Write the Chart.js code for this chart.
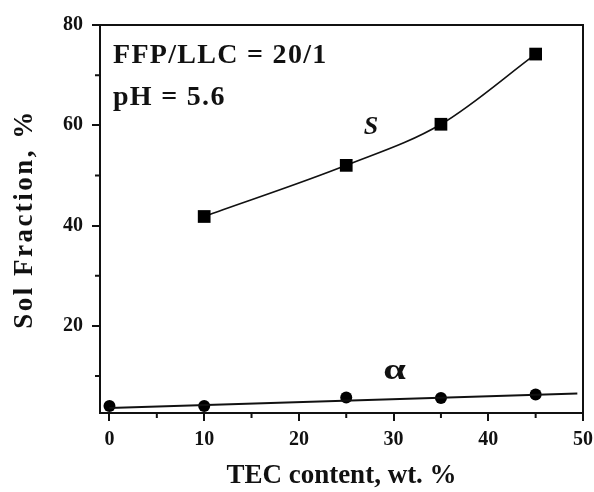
<!DOCTYPE html>
<html>
<head>
<meta charset="utf-8">
<script src="https://cdn.jsdelivr.net/npm/chart.js@4.4.1/dist/chart.umd.min.js"></script>
<style>
  html, body { margin: 0; padding: 0; background: #fff; }
  #wrap { width: 594px; height: 492px; }
</style>
</head>
<body>
<div id="wrap"><canvas id="c"></canvas></div>
<script>
// TEC content (wt. %) and measured sol fraction
const tecS = [10, 25, 35, 45];
const solS = [41.8, 52.0, 60.2, 74.2];

const tecAlpha = [0, 10, 25, 35, 45];
const solAlpha = [4.0, 4.0, 5.7, 5.6, 6.3];

// straight fit through the alpha points
const fitAlphaX = [0, 49.4];
const fitAlphaY = [3.6, 6.5];

const xMajor = [0, 10, 20, 30, 40, 50];
const xMinor = [5, 15, 25, 35, 45];
const yMajor = [20, 40, 60, 80];
const yMinor = [10, 30, 50, 70];

const serif = "'Liberation Serif', 'Times New Roman', serif";

function pts(xs, ys) {
    return xs.map((x, i) => ({ x: x, y: ys[i] }));
}

// frame, minor ticks, y title and in-plot labels
const decor = {
    id: 'decor',
    afterDraw(chart) {
        const ctx = chart.ctx;
        const a = chart.chartArea;
        const xs = chart.scales.x, ys = chart.scales.y;
        ctx.save();
        ctx.strokeStyle = '#111';
        ctx.lineWidth = 2;
        ctx.strokeRect(a.left, a.top, a.right - a.left, a.bottom - a.top);

        ctx.beginPath();
        xMinor.forEach(v => {
            const px = xs.getPixelForValue(v);
            ctx.moveTo(px, a.bottom);
            ctx.lineTo(px, a.bottom + 5);
        });
        yMinor.forEach(v => {
            const py = ys.getPixelForValue(v);
            ctx.moveTo(a.left, py);
            ctx.lineTo(a.left - 5, py);
        });
        ctx.stroke();

        ctx.fillStyle = '#111';
        ctx.textBaseline = 'alphabetic';
        ctx.textAlign = 'left';
        ctx.letterSpacing = '1.3px';
        ctx.font = 'bold 28px ' + serif;
        ctx.fillText('FFP/LLC = 20/1', a.left + 13, a.top + 38);
        ctx.fillText('pH = 5.6', a.left + 13, a.top + 80);

        // rotated y title
        ctx.save();
        ctx.translate(25, (a.top + a.bottom) / 2);
        ctx.rotate(-Math.PI / 2);
        ctx.textAlign = 'center';
        ctx.textBaseline = 'middle';
        ctx.letterSpacing = '2.5px';
        ctx.font = 'bold 27px ' + serif;
        ctx.fillText('Sol Fraction, %', 0, 0);
        ctx.restore();

        ctx.letterSpacing = '0px';
        ctx.textAlign = 'center';
        ctx.textBaseline = 'middle';
        ctx.font = 'italic bold 26px ' + serif;
        ctx.fillText('S', xs.getPixelForValue(27.6), ys.getPixelForValue(59.6));

        ctx.save();
        ctx.translate(xs.getPixelForValue(30.1), ys.getPixelForValue(10.9));
        ctx.scale(1.35, 1);
        ctx.font = 'bold 30px ' + serif;
        ctx.fillText('α', 0, 0);
        ctx.restore();
        ctx.restore();
    }
};

new Chart(document.getElementById('c'), {
    type: 'scatter',
    data: {
        datasets: [
            {
                data: pts(tecS, solS),
                showLine: true,
                cubicInterpolationMode: 'monotone',
                borderColor: '#111',
                borderWidth: 1.6,
                pointStyle: 'rect',
                pointRadius: 9,
                pointBackgroundColor: '#000',
                pointBorderWidth: 0
            },
            {
                data: pts(fitAlphaX, fitAlphaY),
                showLine: true,
                borderColor: '#111',
                borderWidth: 2,
                pointRadius: 0
            },
            {
                data: pts(tecAlpha, solAlpha),
                pointStyle: 'circle',
                pointRadius: 6,
                pointBackgroundColor: '#000',
                pointBorderWidth: 0
            }
        ]
    },
    options: {
        responsive: true,
        maintainAspectRatio: false,
        animation: false,
        layout: { padding: { top: 25, right: 11, left: 0, bottom: 0 } },
        plugins: {
            legend: { display: false },
            tooltip: { enabled: false }
        },
        scales: {
            x: {
                type: 'linear',
                min: -1,
                max: 50,
                afterBuildTicks: s => { s.ticks = xMajor.map(v => ({ value: v })); },
                afterFit: s => { s.height = 79; s.paddingLeft = 0; s.paddingRight = 0; },
                grid: { display: true, drawOnChartArea: false, tickLength: 8, color: '#111', lineWidth: 2 },
                border: { display: false },
                ticks: {
                    color: '#111',
                    font: { family: serif, size: 20, weight: 'bold' },
                    padding: 7
                },
                title: {
                    display: true,
                    text: 'TEC content, wt. %',
                    color: '#111',
                    font: { family: serif, size: 27, weight: 'bold' },
                    padding: { top: 0, bottom: 0 }
                }
            },
            y: {
                type: 'linear',
                min: 2.6,
                max: 80,
                afterBuildTicks: s => { s.ticks = yMajor.map(v => ({ value: v })); },
                afterFit: s => { s.width = 100; s.paddingTop = 0; s.paddingBottom = 0; },
                grid: { display: true, drawOnChartArea: false, tickLength: 8, color: '#111', lineWidth: 2 },
                border: { display: false },
                ticks: {
                    color: '#111',
                    font: { family: serif, size: 20, weight: 'bold' },
                    padding: 9
                },
                title: { display: false }
            }
        }
    },
    plugins: [decor]
});
</script>
</body>
</html>
